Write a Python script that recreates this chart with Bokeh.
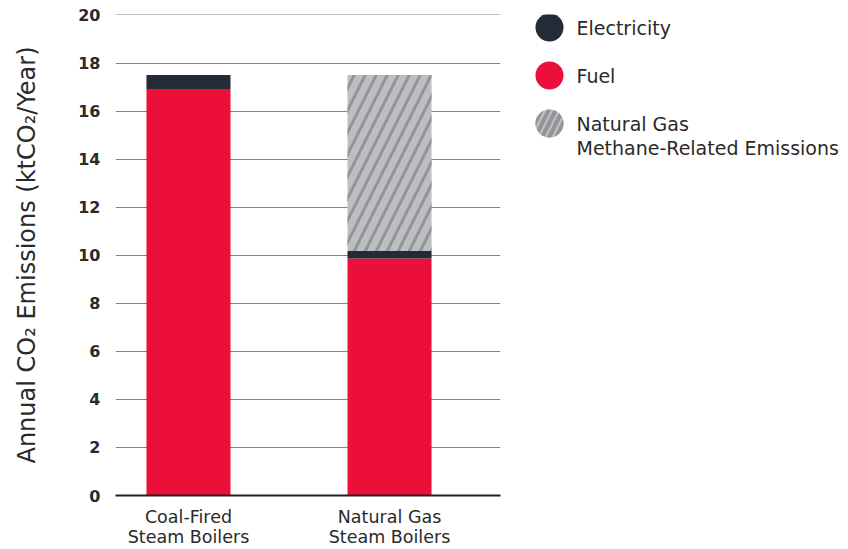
from bokeh.plotting import figure
from bokeh.models import Range1d, FixedTicker, ColumnDataSource
from bokeh.layouts import row
from bokeh.embed import file_html
from bokeh.resources import INLINE
from bokeh.core.properties import value

categories = ["Coal-Fired\nSteam Boilers", "Natural Gas\nSteam Boilers"]
fuel = [16.92, 9.86]
electricity = [0.58, 0.32]
methane = [0.0, 7.32]
y_ticks = [0, 2, 4, 6, 8, 10, 12, 14, 16, 18, 20]
legend_labels = ["Electricity", "Fuel", "Natural Gas\nMethane-Related Emissions"]

RED = "#EC0F3A"
DARK = "#232B36"
GRAY = "#BDBEC2"
HATCH = "#939498"
TXT = "#2A2A2A"
FONT = "DejaVu Sans"

xs = [i + 0.5 for i in range(len(categories))]
b1 = fuel
b2 = [f + e for f, e in zip(fuel, electricity)]
b3 = [t + m for t, m in zip(b2, methane)]
src = ColumnDataSource(dict(x=xs, z=[0] * len(xs), b1=b1, b2=b2, b3=b3))

p = figure(width=508, height=549, output_backend="svg", toolbar_location=None,
           x_range=Range1d(0.137, 2.052), y_range=Range1d(0, 20.02),
           min_border_left=115, min_border_right=8, min_border_top=14, min_border_bottom=54)
p.outline_line_color = None
p.background_fill_color = "white"
p.border_fill_color = "white"

w = 0.418
p.vbar(x="x", bottom="z", top="b1", width=w, source=src, fill_color=RED, line_color=None)
p.vbar(x="x", bottom="b1", top="b2", width=w, source=src, fill_color=DARK, line_color=None)
p.vbar(x="x", bottom="b2", top="b3", width=w, source=src, fill_color=GRAY, line_color=None,
       hatch_pattern="/", hatch_color=HATCH, hatch_scale=22, hatch_weight=3)

p.xgrid.grid_line_color = None
p.ygrid.grid_line_color = "#7E858D"
p.ygrid.grid_line_width = 1
p.ygrid.ticker = FixedTicker(ticks=y_ticks)

p.yaxis.ticker = FixedTicker(ticks=y_ticks)
p.yaxis.axis_line_color = None
p.yaxis.major_tick_line_color = None
p.yaxis.minor_tick_line_color = None
p.yaxis.major_label_text_font = FONT
p.yaxis.major_label_text_font_style = "bold"
p.yaxis.major_label_text_font_size = "16px"
p.yaxis.major_label_text_color = TXT
p.yaxis.major_label_standoff = 9
p.yaxis.axis_label = "Annual CO\u2082 Emissions (ktCO\u2082/Year)"
p.yaxis.axis_label_text_font = FONT
p.yaxis.axis_label_text_font_style = "normal"
p.yaxis.axis_label_text_font_size = "24px"
p.yaxis.axis_label_text_color = TXT
p.yaxis.axis_label_standoff = 34

p.xaxis.ticker = FixedTicker(ticks=xs)
p.xaxis.major_label_overrides = {x: c for x, c in zip(xs, categories)}
p.xaxis.axis_line_color = "#222222"
p.xaxis.axis_line_width = 2
p.xaxis.major_tick_line_color = None
p.xaxis.minor_tick_line_color = None
p.xaxis.major_label_text_font = FONT
p.xaxis.major_label_text_font_size = "17.5px"
p.xaxis.major_label_text_color = TXT
p.xaxis.major_label_standoff = 5
p.xaxis.major_label_text_line_height = 1.0

# legend figure (its frame is aligned with the main frame: page y 14..495)
lg = figure(width=340, height=549, output_backend="svg", toolbar_location=None,
            x_range=Range1d(0, 340), y_range=Range1d(495, 14),
            min_border_left=0, min_border_right=0, min_border_top=14, min_border_bottom=54)
lg.outline_line_color = None
lg.axis.visible = False
lg.grid.visible = False
ly = [27, 75, 123]
lg.scatter(x=[41], y=[ly[0]], size=28, marker="circle", fill_color=DARK, line_color=None)
lg.scatter(x=[41], y=[ly[1]], size=28, marker="circle", fill_color=RED, line_color=None)
lg.scatter(x=[41], y=[ly[2]], size=28, marker="circle", fill_color=GRAY, line_color=None,
           hatch_pattern="/", hatch_color=HATCH, hatch_scale=14, hatch_weight=4)

tx, ty = [], []
for yy, lab in zip(ly, legend_labels):
    for k, line in enumerate(lab.split("\n")):
        tx.append(line)
        ty.append(yy + 24 * k)
lg.text(x=[68] * len(tx), y=ty, text=tx,
        text_font=value(FONT), text_font_size="19px", text_color=TXT,
        text_baseline="middle")

layout = row(p, lg)
open("out.html", "w").write(file_html(layout, INLINE))
